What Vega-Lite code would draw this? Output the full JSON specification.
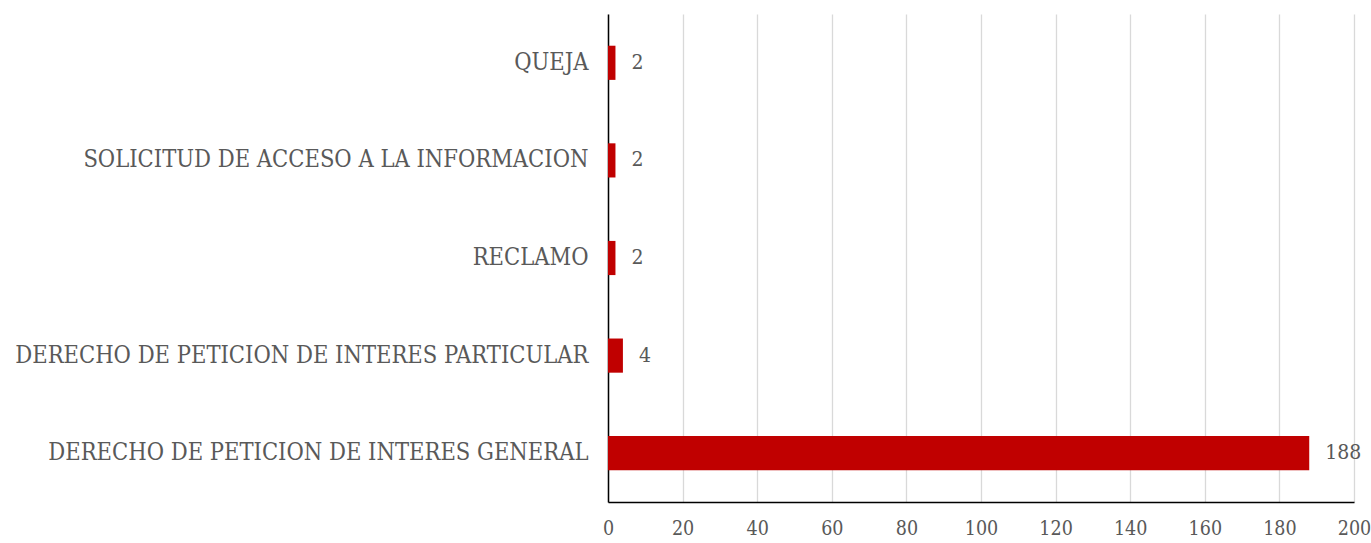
{
  "$schema": "https://vega.github.io/schema/vega-lite/v6.json",
  "width": 746,
  "height": 488,
  "autosize": {"type": "none"},
  "padding": {"left": 608, "top": 14, "right": 17, "bottom": 41},
  "background": "white",
  "config": {"view": {"stroke": null}},
  "data": {"values": [
    {"tipo": "QUEJA", "cantidad": 2},
    {"tipo": "SOLICITUD DE ACCESO A LA INFORMACION", "cantidad": 2},
    {"tipo": "RECLAMO", "cantidad": 2},
    {"tipo": "DERECHO DE PETICION DE INTERES PARTICULAR", "cantidad": 4},
    {"tipo": "DERECHO DE PETICION DE INTERES GENERAL", "cantidad": 188}
  ]},
  "encoding": {
    "y": {"field": "tipo", "type": "nominal", "sort": null,
      "scale": {"paddingInner": 0.65, "paddingOuter": 0.325},
      "axis": {"title": null, "domainColor": "#000000", "domainWidth": 1.5, "ticks": false,
        "labelFont": "DejaVu Serif Condensed, Liberation Serif, serif", "labelFontSize": 23.5, "labelColor": "#595959",
        "labelPadding": 20, "labelLimit": 700}},
    "x": {"field": "cantidad", "type": "quantitative",
      "scale": {"domain": [0, 200], "nice": false},
      "axis": {"title": null, "values": [0,20,40,60,80,100,120,140,160,180,200],
        "domainColor": "#000000", "domainWidth": 1.5, "ticks": false, "labelFlush": false,
        "grid": true, "gridColor": "#d9d9d9", "gridWidth": 1.3,
        "labelFont": "DejaVu Serif Condensed, serif", "labelFontSize": 19.5, "labelColor": "#595959",
        "labelPadding": 17}}
  },
  "layer": [
    {"mark": {"type": "bar", "color": "#C00000"}},
    {"mark": {"type": "text", "align": "left", "dx": 16, "font": "DejaVu Serif Condensed, serif", "fontSize": 21, "color": "#595959"},
      "encoding": {"text": {"field": "cantidad", "type": "quantitative"}}}
  ]
}
